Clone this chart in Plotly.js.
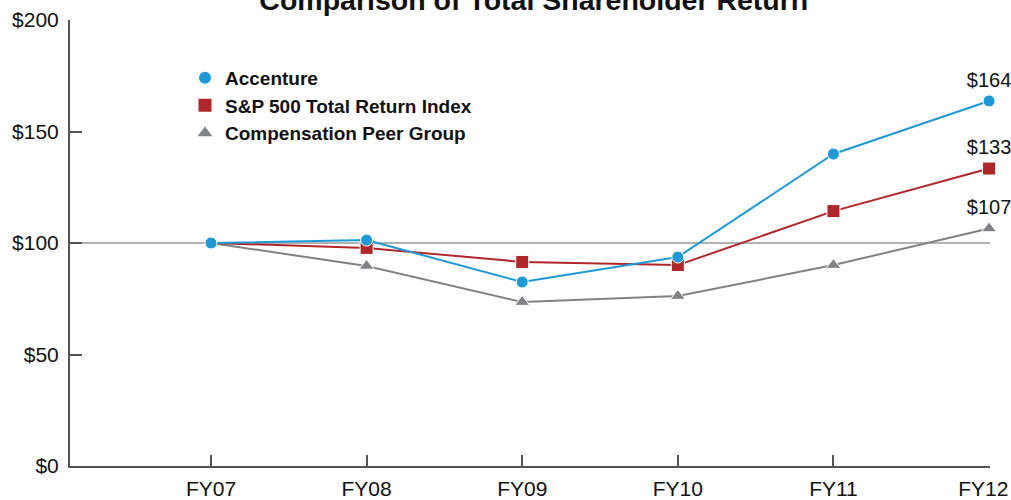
<!DOCTYPE html>
<html>
<head>
<meta charset="utf-8">
<script src="https://cdn.plot.ly/plotly-3.0.1.min.js"></script>
<style>
  html, body { margin: 0; padding: 0; background: #fff; }
  #chart { width: 1011px; height: 500px; }
</style>
</head>
<body>
<div id="chart"></div>
<script>
let years = ['FY07', 'FY08', 'FY09', 'FY10', 'FY11', 'FY12\u00a0\u00a0'];
let accenture = [100, 101.3, 82.5, 93.7, 139.9, 163.7];
let sp500 = [100, 97.8, 91.5, 90.1, 114.3, 133.4];
let peers = [100, 89.7, 73.5, 76.2, 90.1, 106.5];
let seriesNames = ['Accenture', 'S&P 500 Total Return Index', 'Compensation Peer Group'];
let endLabels = ['$164', '$133', '$107'];
let yTickValues = [0, 50, 100, 150, 200];
let yTickLabels = ['$0', '$50', '$100', '$150', '$200'];

let colors = ['#1f9ad6', '#b0262a', '#808285'];
let symbols = ['circle', 'square', 'triangle-up'];
let sizes = [12, 13, 13];
let allSeries = [accenture, sp500, peers];

let xs = years.map(function (y, i) { return i; });
let font = 'Helvetica, "Liberation Sans", Arial, sans-serif';

let traces = [];
// draw peers first so Accenture sits on top; the shared FY07 base point shows only the circle
[2, 1, 0].forEach(function (k) {
    let vals = allSeries[k];
    traces.push({
        x: xs,
        y: vals,
        mode: 'lines+markers+text',
        text: vals.map(function (v, i) { return i === vals.length - 1 ? endLabels[k] : ''; }),
        textposition: 'top center',
        textfont: { family: font, size: 20, color: '#111' },
        line: { color: colors[k], width: 2 },
        marker: {
            color: colors[k],
            symbol: symbols[k],
            opacity: 1,
            size: vals.map(function (v, i) { return (i === 0 && k > 0) ? 0 : sizes[k]; })
        },
        showlegend: false,
        hoverinfo: 'skip',
        cliponaxis: false
    });
});
// legend entries show markers only
allSeries.forEach(function (vals, k) {
    traces.push({
        x: [null],
        y: [null],
        mode: 'markers',
        name: seriesNames[k],
        legendgroup: 'g' + k,
        marker: { color: colors[k], symbol: symbols[k], size: sizes[k] }
    });
});

let layout = {
    width: 1011,
    height: 500,
    margin: { l: 70, r: 21, t: 20, b: 34 },
    paper_bgcolor: '#fff',
    plot_bgcolor: '#fff',
    font: { family: font, size: 20, color: '#111' },
    title: {
        text: '<b>Comparison of Total Shareholder Return</b>',
        font: { family: font, size: 28.5, color: '#111' },
        x: 0.528, xanchor: 'center',
        yref: 'container', y: 1.0, yanchor: 'middle'
    },
    showlegend: true,
    legend: {
        x: 0.125, y: 0.913, xanchor: 'left', yanchor: 'top',
        font: { family: font, size: 19, color: '#111', weight: 'bold' },
        bgcolor: 'rgba(0,0,0,0)',
        tracegroupgap: 0,
        itemwidth: 30
    },
    xaxis: {
        range: [-0.906, 5.006],
        tickvals: xs,
        ticktext: years,
        ticks: 'inside',
        ticklen: 11,
        tickwidth: 2,
        tickcolor: '#555',
        showline: true,
        linecolor: '#555',
        linewidth: 2,
        showgrid: false,
        zeroline: false,
        ticklabelstandoff: 3,
        ticklabeloverflow: 'allow',
        tickfont: { family: font, size: 21, color: '#111' }
    },
    yaxis: {
        range: [0, 200],
        tickvals: yTickValues,
        ticktext: yTickLabels,
        ticks: 'inside',
        ticklen: 12,
        tickwidth: 2,
        tickcolor: '#555',
        showline: true,
        linecolor: '#555',
        linewidth: 2,
        showgrid: false,
        zeroline: false,
        ticklabelstandoff: 5,
        tickfont: { family: font, size: 21, color: '#111' }
    },
    shapes: [{
        type: 'line', xref: 'paper', x0: 0, x1: 1, yref: 'y', y0: 100, y1: 100,
        line: { color: '#666', width: 1 }, layer: 'below'
    }]
};

Plotly.newPlot('chart', traces, layout, { displayModeBar: false, staticPlot: true });
</script>
</body>
</html>
